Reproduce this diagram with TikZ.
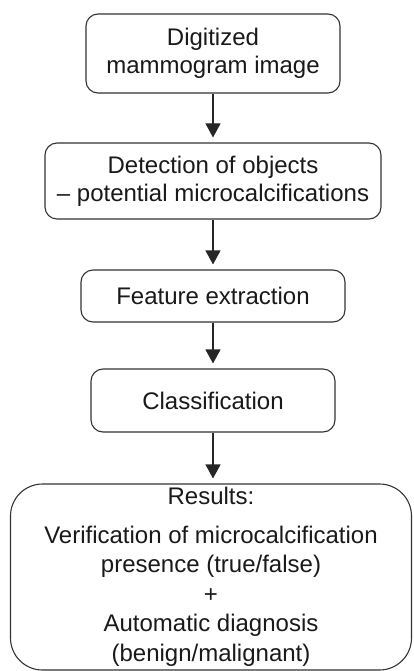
\documentclass[tikz,border=0pt]{standalone}
\usepackage{fontspec}
\setmainfont{Liberation Sans}
\usetikzlibrary{arrows.meta}
\begin{document}
\begin{tikzpicture}[x=1pt,y=-1pt,
  box/.style={draw=black!80, line width=1.1pt, rounded corners=12pt, align=center, inner sep=0pt,
    font=\fontsize{24}{28}\selectfont, text=black!90},
  arr/.style={draw=black!85, line width=1.1pt, -{Triangle[length=14pt,width=15pt]}, shorten >=5pt}]
\useasboundingbox (0,0) rectangle (413,671);
\node[box, minimum width=254pt, minimum height=79pt] (b1) at (213,53.5) {Digitized\\mammogram image};
\node[box, minimum width=336pt, minimum height=76pt] (b2) at (213,181) {Detection of objects\\– potential microcalcifications};
\node[box, minimum width=264pt, minimum height=52pt] (b3) at (213,296) {Feature extraction};
\node[box, minimum width=244pt, minimum height=63pt] (b4) at (213,400.5) {Classification};
\node[box, rounded corners=32pt, minimum width=401pt, minimum height=186pt, font=\fontsize{24}{29.5}\selectfont] (b5) at (211,577)
  {Results:\\[9pt]Verification of microcalcification\\presence (true/false)\\+\\Automatic diagnosis\\(benign/malignant)};
\draw[arr] (b1.south) -- (b2.north);
\draw[arr] (b2.south) -- (b3.north);
\draw[arr] (b3.south) -- (b4.north);
\draw[arr] (b4.south) -- (b5.north -| b4.south);
\end{tikzpicture}
\end{document}
